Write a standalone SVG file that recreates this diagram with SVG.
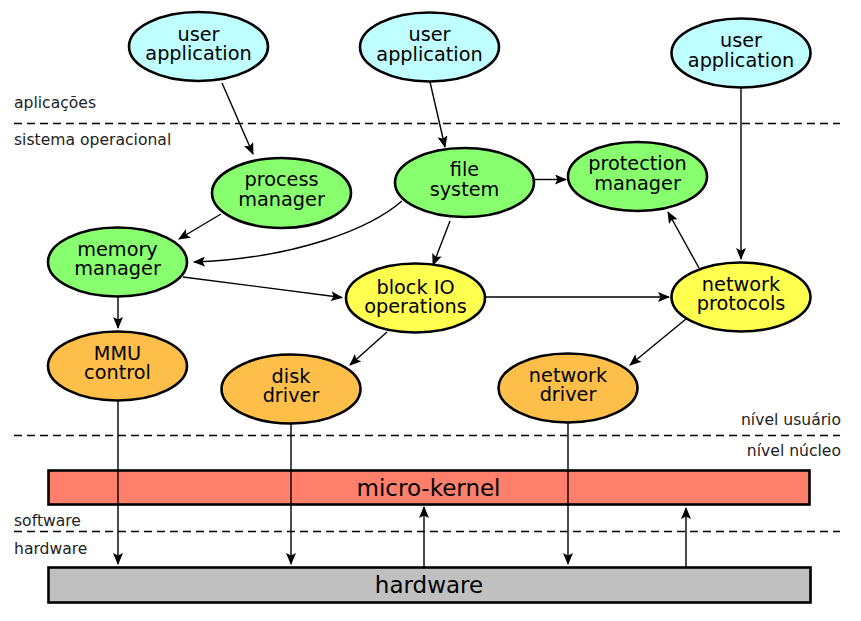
<svg xmlns="http://www.w3.org/2000/svg" width="861" height="621" viewBox="0 0 861 621">
<defs>
<marker id="arr" viewBox="0 0 12 10" refX="11" refY="5" markerWidth="12" markerHeight="10" markerUnits="userSpaceOnUse" orient="auto">
<path d="M0,0 L12,5 L0,10 L2.5,5 z" fill="#000"/>
</marker>
<style>
.n ellipse{stroke:#000;stroke-width:2.6}
.ua{fill:#c0ffff}
.gr{fill:#88ff6e}
.ye{fill:#ffff50}
.or{fill:#fdbf4a}
.t{font-family:"DejaVu Sans",sans-serif;font-size:19.3px;fill:#000;text-anchor:middle}
.lbl{font-family:"DejaVu Sans",sans-serif;font-size:15.6px;fill:#222}
.dash{stroke:#000;stroke-width:1.3;stroke-dasharray:8,5;fill:none}
.c path,.c line{stroke:#000;stroke-width:1.4;fill:none;marker-end:url(#arr)}
.bar{stroke:#000;stroke-width:2.6}
.bt{font-family:"DejaVu Sans",sans-serif;font-size:23px;fill:#000;text-anchor:middle}
</style>
</defs>
<rect width="861" height="621" fill="#fff"/>

<g id="separators">
<line class="dash" x1="14" y1="123.5" x2="840" y2="123.5"/>
<line class="dash" x1="14" y1="435.5" x2="840" y2="435.5"/>
<line class="dash" x1="14" y1="531.5" x2="840" y2="531.5"/>
<text class="lbl" x="14" y="108">aplicações</text>
<text class="lbl" x="14" y="145">sistema operacional</text>
<text class="lbl" x="841" y="424.5" text-anchor="end">nível usuário</text>
<text class="lbl" x="841" y="455.5" text-anchor="end">nível núcleo</text>
<text class="lbl" x="14" y="525.5">software</text>
<text class="lbl" x="14" y="553.5">hardware</text>
</g>

<g id="micro-kernel">
<rect class="bar" x="48.5" y="470.5" width="761" height="34" fill="#ff7f6a"/>
<text class="bt" x="428.5" y="496">micro-kernel</text>
</g>
<g id="hardware">
<rect class="bar" x="48.5" y="567.5" width="762" height="35" fill="#c0c0c0"/>
<text class="bt" x="429" y="592.5">hardware</text>
</g>

<g id="connectors" class="c">
<line x1="222" y1="83" x2="253" y2="154"/>
<line x1="430" y1="82" x2="445" y2="147"/>
<line x1="741" y1="88" x2="741" y2="259"/>
<line x1="221" y1="214" x2="179" y2="239"/>
<path d="M402,201 C372,227 300,258 194,262"/>
<line x1="450" y1="221" x2="433" y2="265"/>
<line x1="534" y1="179.5" x2="566" y2="179.5"/>
<line x1="699" y1="268" x2="668" y2="212"/>
<line x1="183" y1="277" x2="342" y2="297.5"/>
<line x1="485" y1="297" x2="669" y2="297"/>
<line x1="118" y1="297" x2="118" y2="328"/>
<line x1="387" y1="332" x2="350" y2="365"/>
<line x1="686" y1="319" x2="630" y2="365"/>
<line x1="118" y1="401" x2="118" y2="564"/>
<line x1="291" y1="424" x2="291" y2="564"/>
<line x1="568" y1="423" x2="568" y2="564"/>
<line x1="424" y1="567" x2="424" y2="507"/>
<line x1="686" y1="567" x2="686" y2="508"/>
</g>

<g id="ua1" class="n"><ellipse class="ua" cx="198.5" cy="46.5" rx="69.5" ry="34.5"/><text class="t" x="198.5" y="40.5">user</text><text class="t" x="198.5" y="60">application</text></g>
<g id="ua2" class="n"><ellipse class="ua" cx="429.5" cy="47" rx="69.5" ry="34.5"/><text class="t" x="429.5" y="41">user</text><text class="t" x="429.5" y="60.5">application</text></g>
<g id="ua3" class="n"><ellipse class="ua" cx="741" cy="53" rx="69.5" ry="34.5"/><text class="t" x="741" y="47">user</text><text class="t" x="741" y="66.5">application</text></g>
<g id="process-manager" class="n"><ellipse class="gr" cx="281.5" cy="193" rx="69.5" ry="35"/><text class="t" x="281.5" y="186">process</text><text class="t" x="281.5" y="205.5">manager</text></g>
<g id="memory-manager" class="n"><ellipse class="gr" cx="117.5" cy="262" rx="69.5" ry="34.5"/><text class="t" x="117.5" y="255.5">memory</text><text class="t" x="117.5" y="275">manager</text></g>
<g id="file-system" class="n"><ellipse class="gr" cx="464.5" cy="182.5" rx="69.5" ry="34.5"/><text class="t" x="464.5" y="176">file</text><text class="t" x="464.5" y="195.5">system</text></g>
<g id="protection-manager" class="n"><ellipse class="gr" cx="637.5" cy="176.5" rx="69.5" ry="34.5"/><text class="t" x="637.5" y="170">protection</text><text class="t" x="637.5" y="189.5">manager</text></g>
<g id="block-io" class="n"><ellipse class="ye" cx="415.5" cy="298" rx="69.5" ry="34.5"/><text class="t" x="415.5" y="293.5">block IO</text><text class="t" x="415.5" y="313">operations</text></g>
<g id="network-protocols" class="n"><ellipse class="ye" cx="741" cy="297" rx="69.5" ry="34.5"/><text class="t" x="741" y="290.5">network</text><text class="t" x="741" y="310">protocols</text></g>
<g id="mmu-control" class="n"><ellipse class="or" cx="117.5" cy="366" rx="69.5" ry="34.5"/><text class="t" x="117.5" y="359.5">MMU</text><text class="t" x="117.5" y="379">control</text></g>
<g id="disk-driver" class="n"><ellipse class="or" cx="291" cy="389" rx="69.5" ry="34.5"/><text class="t" x="291" y="382.5">disk</text><text class="t" x="291" y="402">driver</text></g>
<g id="network-driver" class="n"><ellipse class="or" cx="568" cy="388" rx="69.5" ry="34.5"/><text class="t" x="568" y="381.5">network</text><text class="t" x="568" y="401">driver</text></g>
</svg>
